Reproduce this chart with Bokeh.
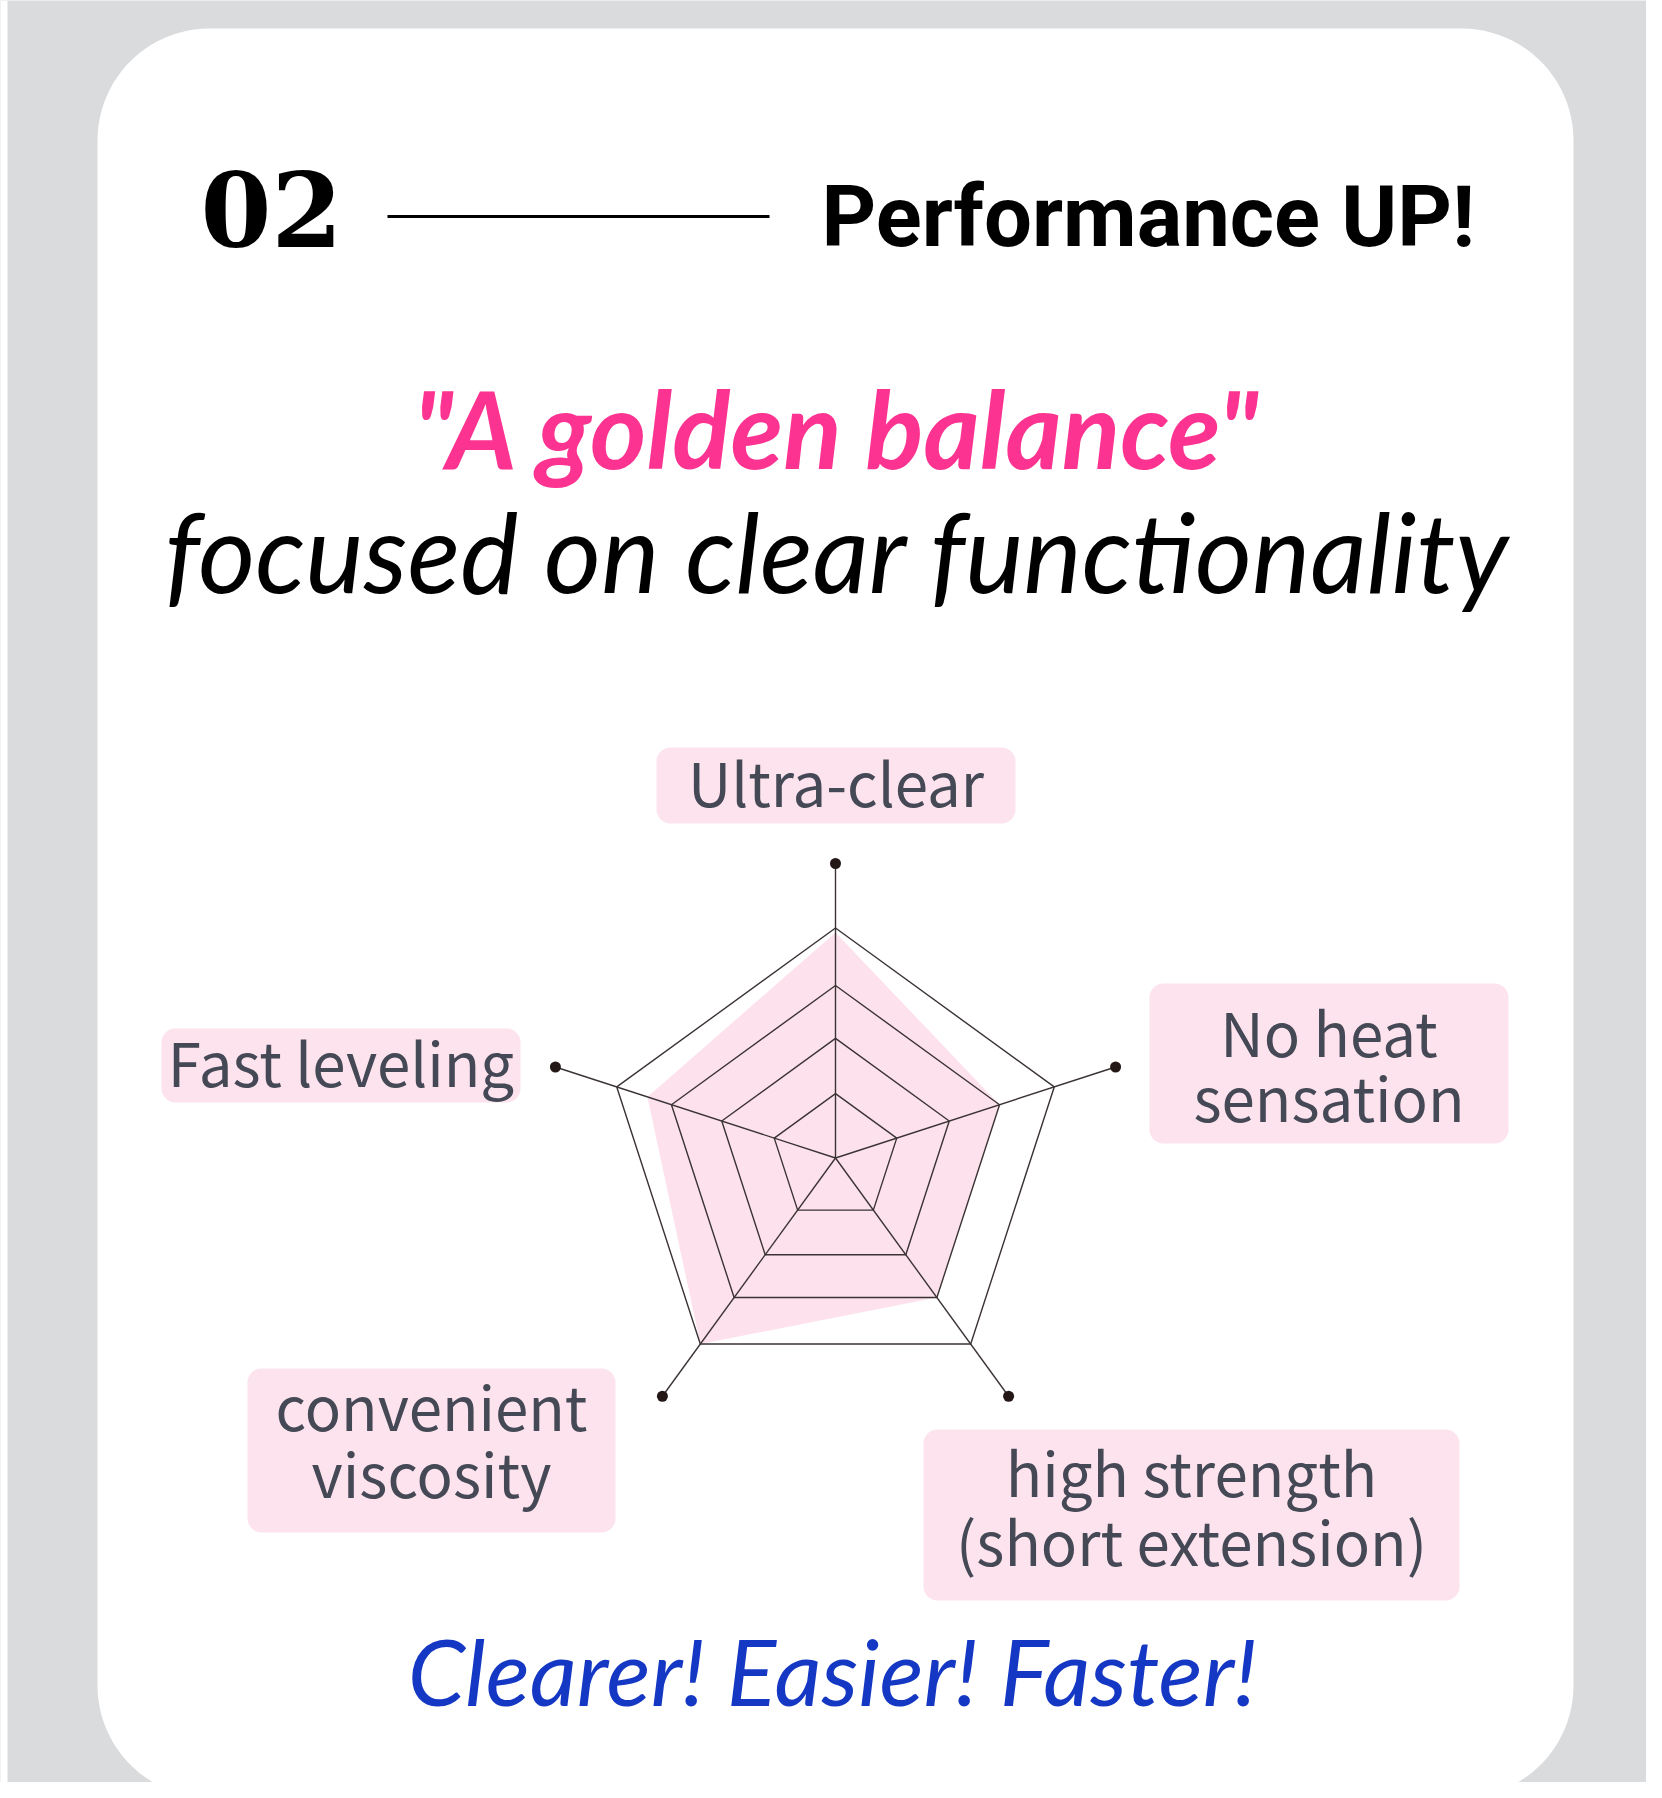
import numpy as np
from bokeh.plotting import figure
from bokeh.models import Range1d
from bokeh.core.properties import value
from bokeh.embed import file_html
from bokeh.resources import INLINE

# ---------------- data ----------------
categories = ["Ultra-clear", "No heat sensation", "high strength (short extension)",
              "convenient viscosity", "Fast leveling"]
category_lines = [["Ultra-clear"], ["No heat", "sensation"], ["high strength", "(short extension)"],
                  ["convenient", "viscosity"], ["Fast leveling"]]
scores = [98, 75, 75, 100, 86]          # % of the outer ring
ring_levels = [28, 52, 75, 100]
score_max = 100

title_number = "02"
title_text = "Performance UP!"
headline = '"A golden balance"'
subline = "focused on clear functionality"
footer = "Clearer! Easier! Faster!"

# ---------------- styles / layout ----------------
GRAY = "#d9dbdd"
PINK = "#fde3ee"
LINE = "#3b3333"
LABEL = "#444955"
W, H = 1646, 1782

p = figure(width=W, height=H, x_range=Range1d(0, W), y_range=Range1d(H, 0),
           output_backend="svg", toolbar_location=None, min_border=0,
           x_axis_location=None, y_axis_location=None)
p.grid.visible = False
p.outline_line_color = None
p.background_fill_color = GRAY
p.border_fill_color = GRAY


def rrect(x0, y0, x1, y1, r, n=24):
    xs, ys = [], []
    for cx_, cy_, a0, a1 in [(x1 - r, y0 + r, -90, 0), (x1 - r, y1 - r, 0, 90),
                             (x0 + r, y1 - r, 90, 180), (x0 + r, y0 + r, 180, 270)]:
        t = np.radians(np.linspace(a0, a1, n))
        xs += list(cx_ + r * np.cos(t))
        ys += list(cy_ + r * np.sin(t))
    return xs, ys


def base(y, size, k):
    # compensate the renderer's baseline offset (fraction of font size)
    return y - k * size


# white strip at far left + card
p.quad(left=[0], right=[7], top=[0], bottom=[H], fill_color="white", line_color=None)
cxs, cys = rrect(97, 28, 1573, 1797, 112)
p.patch(cxs, cys, fill_color="white", line_color=None)

# header
p.text(x=[200], y=[base(245, 102, 0.36)], text=[title_number], text_font=value("DejaVu Serif"),
       text_font_style="bold", text_font_size="102px", text_color="black",
       text_baseline="alphabetic", text_align="left")
p.line(x=[387, 769], y=[216, 216], line_color="black", line_width=3)
p.text(x=[821], y=[base(247, 85, 0.36)], text=[title_text], text_font=value("Roboto"),
       text_font_style="bold", text_font_size="85px", text_color="black",
       text_baseline="alphabetic", text_align="left")

# headline texts
p.text(x=[837], y=[base(468, 108, 0.38)], text=[headline], text_font=value("Lato"),
       text_font_style="bold italic", text_font_size="108px", text_color="#fc3391",
       text_baseline="alphabetic", text_align="center")
p.text(x=[837], y=[base(591, 110, 0.38)], text=[subline], text_font=value("Lato"),
       text_font_style="italic", text_font_size="110px", text_color="black",
       text_baseline="alphabetic", text_align="center")
p.text(x=[832], y=[base(1705, 92, 0.38)], text=[footer], text_font=value("Lato"),
       text_font_style="italic", text_font_size="92px", text_color="#1538c4",
       text_baseline="alphabetic", text_align="center")

# ---------------- radar ----------------
cx, cy = 835, 1157.5
R = 230.0
R_dot = 294.5
n_cat = len(categories)
angles = np.radians(90 - 360 * np.arange(n_cat) / n_cat)


def pt(frac, i):
    return cx + R * frac * np.cos(angles[i]), cy - R * frac * np.sin(angles[i])


# data polygon
dx = [pt(s / score_max, i)[0] for i, s in enumerate(scores)]
dy = [pt(s / score_max, i)[1] for i, s in enumerate(scores)]
p.patch(dx, dy, fill_color="#fde2ee", line_color=None)

# rings
ring_xs, ring_ys = [], []
for lv in ring_levels:
    xs = [pt(lv / score_max, i)[0] for i in range(n_cat)]
    ys = [pt(lv / score_max, i)[1] for i in range(n_cat)]
    ring_xs.append(xs + xs[:1])
    ring_ys.append(ys + ys[:1])
p.multi_line(ring_xs, ring_ys, line_color=LINE, line_width=1.4)

# spokes + end dots
sx = [[cx, cx + R_dot * np.cos(a)] for a in angles]
sy = [[cy, cy - R_dot * np.sin(a)] for a in angles]
p.multi_line(sx, sy, line_color=LINE, line_width=1.4)
p.scatter([s[1] for s in sx], [s[1] for s in sy], size=11, fill_color="#231815", line_color=None)

# category labels: boxes (x0, y0, x1, y1) and line baselines
label_boxes = [(656, 747, 1015, 823), (1149, 983, 1508, 1143), (923, 1429, 1459, 1600),
               (247, 1368, 615, 1532), (161, 1028, 520, 1102)]
label_baselines = [[807], [1057, 1122], [1497, 1566], [1431, 1498], [1087]]

bx, by = [], []
tx, ty, tt = [], [], []
for (x0, y0, x1, y1), lines, bls in zip(label_boxes, category_lines, label_baselines):
    xs, ys = rrect(x0, y0, x1, y1, 14)
    bx.append(xs)
    by.append(ys)
    for ln, b in zip(lines, bls):
        tx.append((x0 + x1) / 2)
        ty.append(base(b, 60, 0.45))
        tt.append(ln)
p.patches(bx, by, fill_color=PINK, line_color=None)
p.text(x=tx, y=ty, text=tt, text_font=value("Noto Sans CJK KR"), text_font_size="60px",
       text_color=LABEL, text_baseline="alphabetic", text_align="center")

open("out.html", "w").write(file_html(p, INLINE))
